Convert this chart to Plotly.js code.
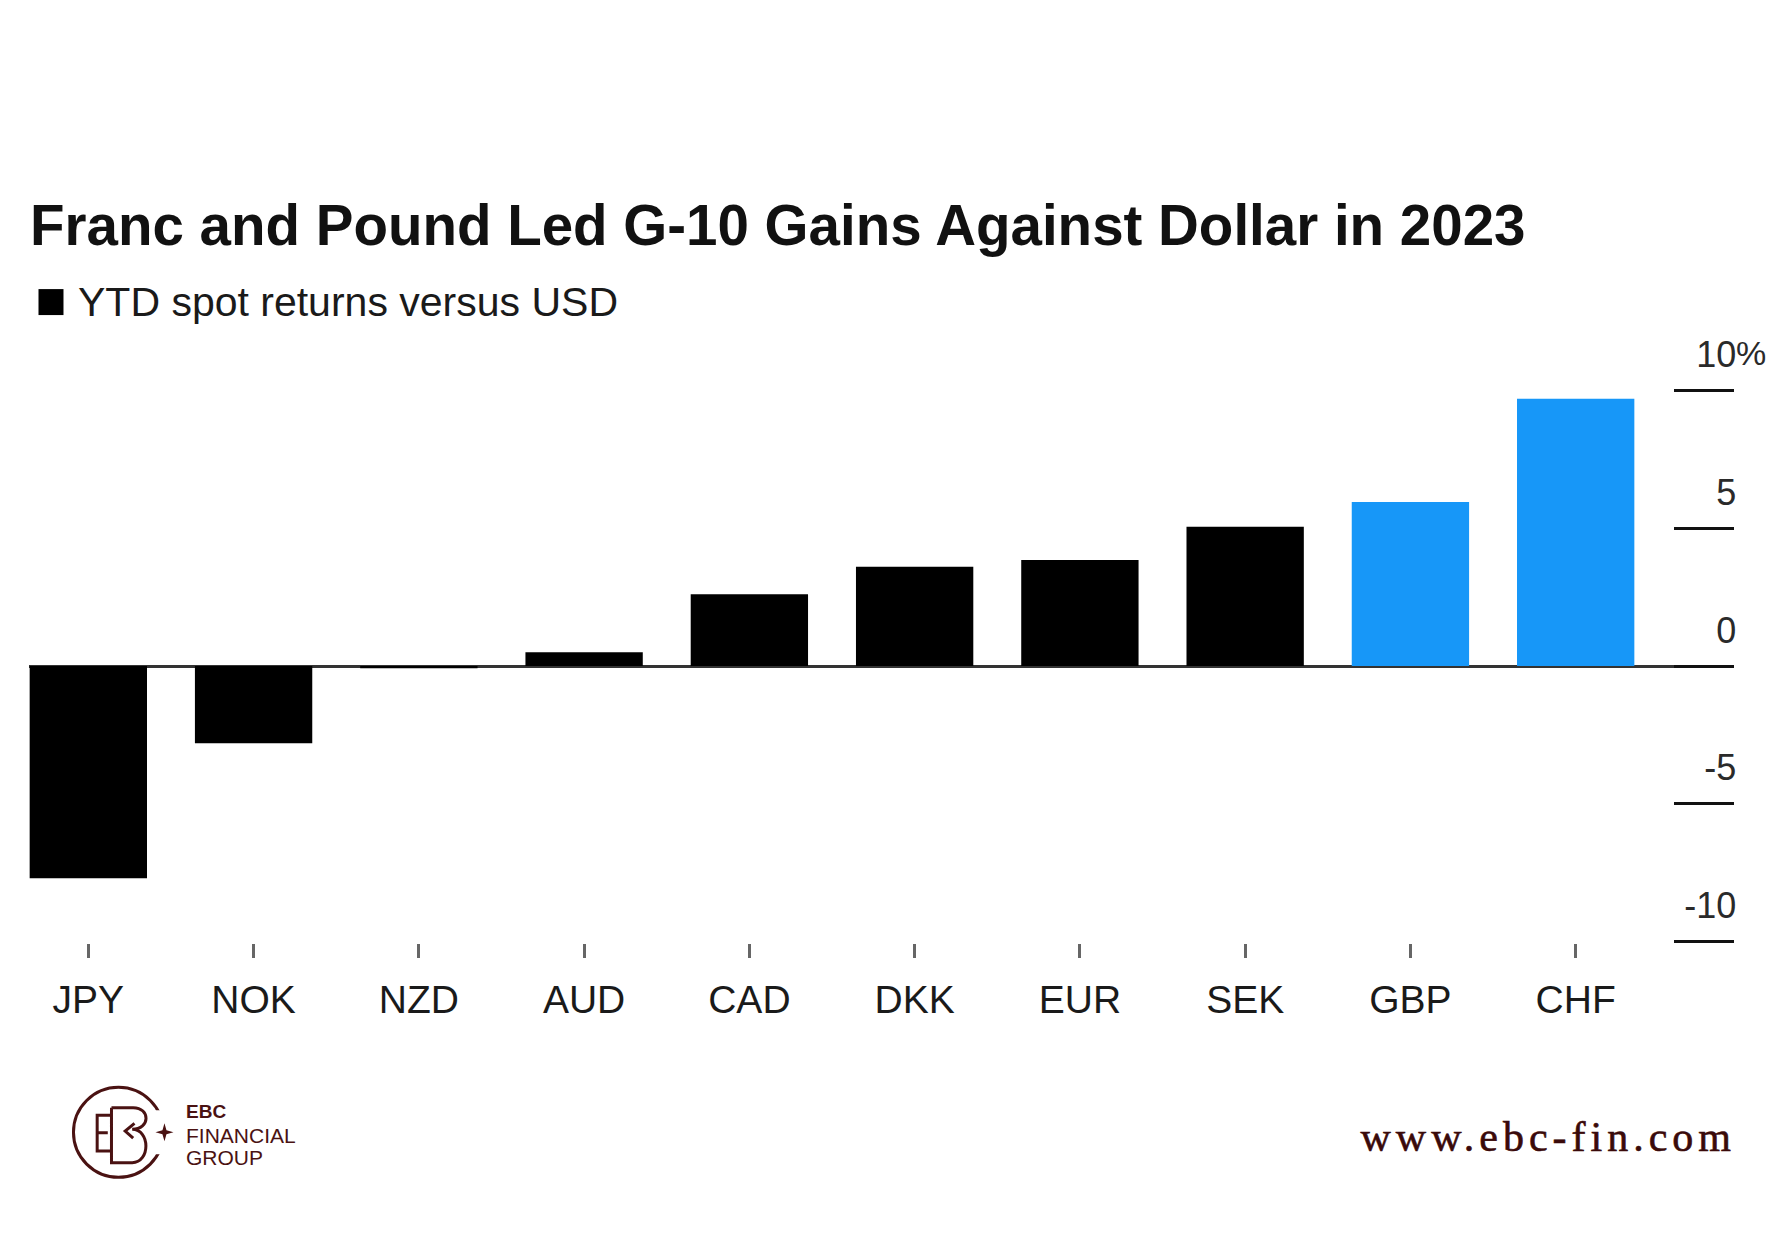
<!DOCTYPE html>
<html>
<head>
<meta charset="utf-8">
<script src="https://cdn.plot.ly/plotly-3.0.1.min.js"></script>
<style>
  html, body { margin: 0; padding: 0; background: #ffffff; }
  #chart { width: 1788px; height: 1245px; }
  g.annotation[data-index="0"] text.annotation-text { letter-spacing: 5px; stroke: #3a0a0a; stroke-width: 0.6px; }
</style>
</head>
<body>
<div id="chart"></div>
<script>
// ---- data ----
const currencies = ['JPY', 'NOK', 'NZD', 'AUD', 'CAD', 'DKK', 'EUR', 'SEK', 'GBP', 'CHF'];
const ytdReturns = [-7.7, -2.8, -0.08, 0.5, 2.6, 3.6, 3.85, 5.05, 5.95, 9.7];
const highlighted = ['GBP', 'CHF'];
const yTickValues = [-10, -5, 0, 5, 10];
const yTickLabels = ['-10', '-5', '0', '5', '10'];
const titleText = 'Franc and Pound Led G-10 Gains Against Dollar in 2023';
const seriesName = 'YTD spot returns versus USD';

// ---- layout helpers (pixel -> paper) ----
const W = 1788, H = 1245;
const ML = 28.5, MR = 54, MT = 389, MB = 301.5;
const PW = W - ML - MR, PH = H - MT - MB;
const px2x = p => (p - ML) / PW;
const py2y = p => (H - MB - p) / PH;

const maroon = '#4a1212';
const barColors = currencies.map(c => highlighted.includes(c) ? '#1797f8' : '#000000');

const trace = {
  type: 'bar',
  x: currencies,
  y: ytdReturns,
  marker: { color: barColors, line: { width: 0 } },
  hoverinfo: 'x+y',
  showlegend: false
};

// logo monogram paths drawn in pixel units around the logo centre
const cx = 118, cy = 1133;
function z(zx, zy) { return ((zx - 204) / 3).toFixed(1) + ',' + (-(zy - 159) / 3).toFixed(1); }
const pathE = 'M' + z(185,108) + ' L' + z(140,108) + ' L' + z(140,215) + ' L' + z(185,215) +
              ' M' + z(140,160) + ' L' + z(172,160);
const pathB = 'M' + z(183,85) + ' L' + z(248,85) + ' C' + z(300,85) + ' ' + z(300,150) + ' ' + z(245,150) +
              ' C' + z(300,150) + ' ' + z(300,250) + ' ' + z(245,250) + ' L' + z(183,250) + ' L' + z(183,85);
const pathV = 'M' + z(252,132) + ' L' + z(224,155) + ' L' + z(248,176);
const pathStar = 'M0,9 L2,2 L9,0 L2,-2 L0,-9 L-2,-2 L-9,0 L-2,2 Z';

function pxShape(path, ax, ay, opts) {
  return Object.assign({
    type: 'path', xref: 'paper', yref: 'paper',
    xsizemode: 'pixel', ysizemode: 'pixel',
    xanchor: px2x(ax), yanchor: py2y(ay),
    path: path,
    line: { color: maroon, width: 3 }
  }, opts || {});
}

const shapes = [
  // legend swatch
  { type: 'rect', xref: 'paper', yref: 'paper',
    x0: px2x(38), x1: px2x(63), y0: py2y(315), y1: py2y(289),
    fillcolor: '#000', line: { width: 0 } },
  // logo ring
  { type: 'circle', xref: 'paper', yref: 'paper',
    xsizemode: 'pixel', ysizemode: 'pixel',
    xanchor: px2x(cx), yanchor: py2y(cy),
    x0: -45, x1: 45, y0: -45, y1: 45,
    line: { color: maroon, width: 3 } },
  // gap in the ring
  { type: 'rect', xref: 'paper', yref: 'paper',
    xsizemode: 'pixel', ysizemode: 'pixel',
    xanchor: px2x(cx), yanchor: py2y(cy),
    x0: 28, x1: 50, y0: -22, y1: 22,
    fillcolor: '#ffffff', line: { width: 0 } },
  pxShape(pathE, cx, cy),
  pxShape(pathB, cx, cy),
  pxShape(pathV, cx, cy),
  pxShape(pathStar, 164, 1133, { fillcolor: maroon, line: { width: 0 } })
];

const annotations = [
  { text: 'www.ebc-fin.com', xref: 'paper', yref: 'paper',
    x: px2x(1701), y: py2y(1138), xanchor: 'right', yanchor: 'middle',
    showarrow: false,
    font: { family: 'Liberation Serif, Times New Roman, serif', size: 42, color: '#3a0a0a' } },
  { text: seriesName, xref: 'paper', yref: 'paper',
    x: px2x(76), y: py2y(302), xanchor: 'left', yanchor: 'middle',
    showarrow: false,
    font: { family: 'Liberation Sans, Arial, sans-serif', size: 41, color: '#1a1a1a' } },
  { text: '%', xref: 'paper', yref: 'y',
    x: 1, y: yTickValues[yTickValues.length - 1], xanchor: 'left', yanchor: 'middle',
    yshift: 37, xshift: 0, showarrow: false,
    font: { family: 'Liberation Sans, Arial, sans-serif', size: 34, color: '#2a2a2a' } },
  { text: '<b>EBC</b>', xref: 'paper', yref: 'paper',
    x: px2x(184), y: py2y(1112), xanchor: 'left', yanchor: 'middle', showarrow: false,
    font: { family: 'Liberation Sans, Arial, sans-serif', size: 19, color: maroon } },
  { text: 'FINANCIAL', xref: 'paper', yref: 'paper',
    x: px2x(184), y: py2y(1136), xanchor: 'left', yanchor: 'middle', showarrow: false,
    font: { family: 'Liberation Sans, Arial, sans-serif', size: 21, color: maroon } },
  { text: 'GROUP', xref: 'paper', yref: 'paper',
    x: px2x(184), y: py2y(1158), xanchor: 'left', yanchor: 'middle', showarrow: false,
    font: { family: 'Liberation Sans, Arial, sans-serif', size: 21, color: maroon } }
];

const layout = {
  width: W, height: H,
  paper_bgcolor: '#ffffff', plot_bgcolor: '#ffffff',
  margin: { l: ML, r: MR, t: MT, b: MB, pad: 0 },
  bargap: 0.29,
  showlegend: false,
  title: {
    text: '<b>' + titleText + '</b>',
    xref: 'container', yref: 'container',
    x: 30 / W, xanchor: 'left',
    y: 1 - 225 / H, yanchor: 'middle',
    font: { family: 'Liberation Sans, Arial, sans-serif', size: 56.5, color: '#111111' }
  },
  xaxis: {
    type: 'category',
    range: [-0.359, 9.958],
    showgrid: false, zeroline: false, showline: false,
    ticks: 'outside', ticklen: 14, tickwidth: 3, tickcolor: '#666666',
    tickfont: { family: 'Liberation Sans, Arial, sans-serif', size: 39, color: '#1a1a1a' },
    ticklabelstandoff: 8
  },
  yaxis: {
    side: 'right',
    range: [-10.05, 10.05],
    tickmode: 'array', tickvals: yTickValues, ticktext: yTickLabels,
    showgrid: false, showline: false,
    zeroline: true, zerolinecolor: '#333333', zerolinewidth: 3,
    ticks: 'inside', ticklen: 60, tickwidth: 3, tickcolor: '#111111',
    ticklabelposition: 'inside',
    ticklabeloverflow: 'allow',
    ticklabelshift: -36,
    ticklabelstandoff: -58,
    tickfont: { family: 'Liberation Sans, Arial, sans-serif', size: 36, color: '#2a2a2a' }
  },
  shapes: shapes,
  annotations: annotations
};

Plotly.newPlot('chart', [trace], layout, { displayModeBar: false, staticPlot: true });
</script>
</body>
</html>
